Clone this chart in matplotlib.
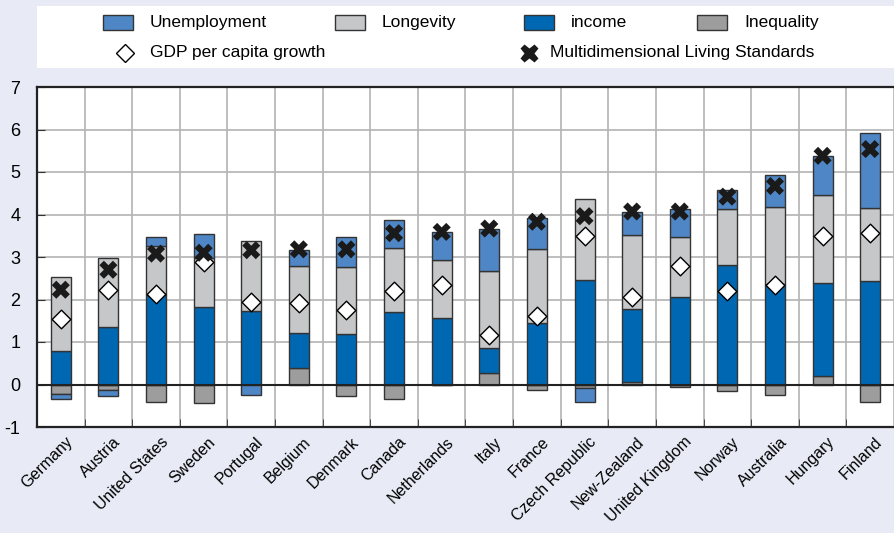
import numpy as np
import matplotlib
matplotlib.use("Agg")
import matplotlib.pyplot as plt
from matplotlib.patches import Rectangle
from matplotlib.lines import Line2D

plt.rcParams['font.family'] = ['Liberation Sans Narrow', 'Liberation Sans', 'DejaVu Sans']
plt.rcParams['axes.unicode_minus'] = False

countries = ["Germany", "Austria", "United States", "Sweden", "Portugal", "Belgium",
             "Denmark", "Canada", "Netherlands", "Italy", "France", "Czech Republic",
             "New-Zealand", "United Kingdom", "Norway", "Australia", "Hungary", "Finland"]

# contributions (percentage points)
income = [0.80, 1.35, 2.10, 1.83, 1.73, 0.82, 1.20, 1.71, 1.56, 0.61, 1.45, 2.46,
          1.70, 2.07, 2.81, 2.36, 2.18, 2.44]
longevity = [1.73, 1.63, 1.15, 1.14, 1.65, 1.58, 1.56, 1.51, 1.37, 1.80, 1.74, 1.90,
             1.75, 1.39, 1.31, 1.81, 2.08, 1.71]
unemployment = [-0.12, -0.14, 0.21, 0.57, -0.25, 0.37, 0.70, 0.66, 0.66, 1.00, 0.73, -0.32,
                0.54, 0.68, 0.46, 0.76, 0.92, 1.77]
inequality = [-0.22, -0.14, -0.40, -0.44, 0.0, 0.40, -0.28, -0.34, -0.02, 0.26, -0.13, -0.08,
              0.07, -0.07, -0.15, -0.25, 0.20, -0.40]
gdp_growth = [1.53, 2.23, 2.14, 2.89, 1.95, 1.91, 1.75, 2.20, 2.33, 1.16, 1.61, 3.49,
              2.05, 2.80, 2.20, 2.34, 3.49, 3.56]
mls = [2.23, 2.70, 3.08, 3.10, 3.16, 3.18, 3.18, 3.56, 3.59, 3.67, 3.83, 3.96,
       4.07, 4.07, 4.42, 4.67, 5.38, 5.54]

c_unemp = "#4f87c6"
c_long = "#c6c7c9"
c_inc = "#0068b3"
c_ineq = "#9d9d9d"
bg = "#e8ebf5"
edge = "#333333"

fig = plt.figure(figsize=(8.94, 5.33), dpi=100, facecolor=bg)
ax = fig.add_axes([37/894, 1-427/533, 1-37/894, (427-87)/533])

x = np.arange(len(countries))
w = 0.42
# stacking: inequality, income, longevity, unemployment (positive up, negative down)
series = [(inequality, c_ineq), (income, c_inc), (longevity, c_long), (unemployment, c_unemp)]
pos = np.zeros(len(x))
neg = np.zeros(len(x))
for vals, col in series:
    v = np.array(vals)
    bottom = np.where(v >= 0, pos, neg)
    ax.bar(x, v, w, bottom=bottom, color=col, edgecolor=edge, linewidth=1, zorder=3)
    pos = pos + np.where(v >= 0, v, 0)
    neg = neg + np.where(v < 0, v, 0)

ax.scatter(x, gdp_growth, marker="D", s=90, facecolor="white", edgecolor="black",
           linewidth=1, zorder=5)
ax.scatter(x, mls, marker="X", s=170, color="#1a1a1a", edgecolor="none", zorder=6)

ax.axhline(0, color="#222222", lw=1.5, zorder=4)
ax.set_xlim(-0.5, len(x) - 0.5)
ax.set_ylim(-1, 7)
ax.set_yticks(range(-1, 8))
ax.set_xticks(x + 0.5, minor=True)
ax.set_xticks(x)
ax.set_xticklabels([])
ax.grid(True, which="major", axis="y", color="#b3b3b3", lw=1.2, zorder=0)
ax.grid(True, which="minor", axis="x", color="#b3b3b3", lw=1.2, zorder=0)
ax.tick_params(axis="y", direction="in", length=6, color="#333333", labelsize=13, pad=12)
ax.tick_params(axis="x", which="major", length=0)
ax.tick_params(axis="x", which="minor", direction="in", length=6, color="#333333")
for s in ["left", "top", "bottom"]:
    ax.spines[s].set_color("#222222")
    ax.spines[s].set_linewidth(1.6)
ax.spines["right"].set_visible(False)

for i, name in enumerate(countries):
    ax.annotate(name, xy=(i, -1), xycoords="data", xytext=(7, -9), textcoords="offset points",
                rotation=45, rotation_mode="anchor", ha="right", va="center", fontsize=11.5)

# legend box
fig.patches.append(Rectangle((37/894, 1-68/533), 1-37/894, 62/533, transform=fig.transFigure,
                             facecolor="white", edgecolor="none", zorder=0))
row1 = [("Unemployment", c_unemp, 103), ("Longevity", c_long, 335),
        ("income", c_inc, 524), ("Inequality", c_ineq, 697)]
for label, col, px in row1:
    fig.patches.append(Rectangle((px/894, 1-30/533), 30/894, 15/533, transform=fig.transFigure,
                                 facecolor=col, edgecolor=edge, lw=1))
    fig.text((px+47)/894, 1-22/533, label, fontsize=12.5, va="center", ha="left")
fig.lines.append(Line2D([125/894], [1-53/533], marker="D", markersize=9, markerfacecolor="white",
                        markeredgecolor="black", transform=fig.transFigure))
fig.text(150/894, 1-53/533, "GDP per capita growth", fontsize=12.5, va="center", ha="left")
fig.lines.append(Line2D([529/894], [1-53/533], marker="X", markersize=13, color="#1a1a1a",
                        markeredgecolor="none", transform=fig.transFigure))
fig.text(550/894, 1-53/533, "Multidimensional Living Standards", fontsize=12.5, va="center", ha="left")

fig.savefig("out.png", dpi=100, facecolor=bg)
